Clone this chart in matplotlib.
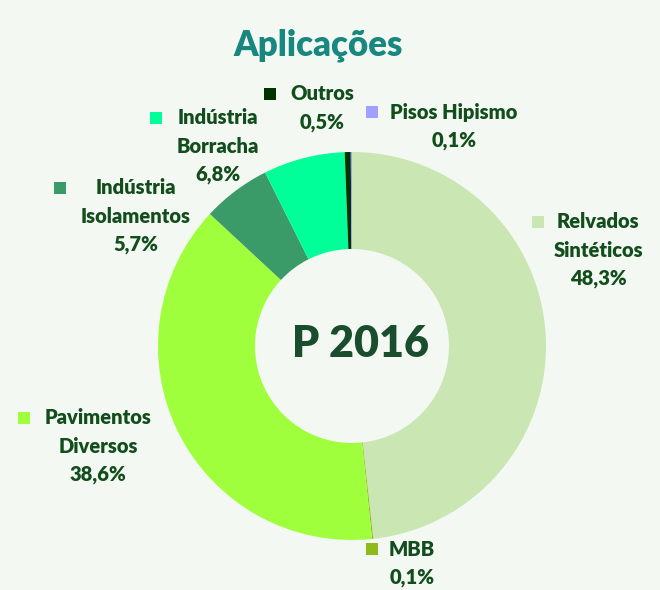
import matplotlib.pyplot as plt
from matplotlib.patches import Rectangle

categories = ['Relvados\nSintéticos', 'MBB', 'Pavimentos\nDiversos', 'Indústria\nIsolamentos',
              'Indústria\nBorracha', 'Outros', 'Pisos Hipismo']
values = [48.3, 0.1, 38.6, 5.7, 6.8, 0.5, 0.1]
colors = ['#c9e6b3', '#8fba1c', '#a0ff3c', '#3a9a68', '#00ff99', '#003300', '#a0a0ff']

# label layout in pixels (text center x, first line y, square x)
label_pos = [(598, 222, 538), (412, 549, 372), (98, 418, 24), (136, 188, 60),
             (218, 118, 156), (322, 94, 270), (454, 112, 372)]

W, H = 660, 590
bg = '#f4f8f2'
txt = '#124d1c'

plt.rcParams['font.family'] = ['Lato', 'DejaVu Sans']

fig = plt.figure(figsize=(W / 100, H / 100), dpi=100, facecolor=bg)
ax = fig.add_axes([0, 0, 1, 1])
ax.set_facecolor(bg)

cx, cy, r = 352, H - 346, 194
ax.pie(values, colors=colors, startangle=90, counterclock=False,
       center=(cx, cy), radius=r, wedgeprops=dict(width=r * 0.5, linewidth=0))
ax.set_xlim(0, W)
ax.set_ylim(0, H)
ax.set_aspect('equal')
ax.axis('off')

ax.text(318, H - 45, 'Aplicações', ha='center', va='center', fontsize=25,
        fontweight='heavy', color='#178780')
ax.text(cx + 8, cy + 2, 'P 2016', ha='center', va='center', fontsize=31,
        fontweight='heavy', color='#1a4d2e')

for cat, v, c, (tx, ty, sx) in zip(categories, values, colors, label_pos):
    lines = cat.split('\n') + [f'{v:.1f}'.replace('.', ',') + '%']
    for i, line in enumerate(lines):
        ax.text(tx, H - ty - i * 28.5, line, ha='center', va='center',
                fontsize=14.5, fontweight='heavy', color=txt)
    ax.add_patch(Rectangle((sx - 6, H - ty - 6), 12, 12, color=c, lw=0))

fig.savefig('out.png', dpi=100, facecolor=bg)
